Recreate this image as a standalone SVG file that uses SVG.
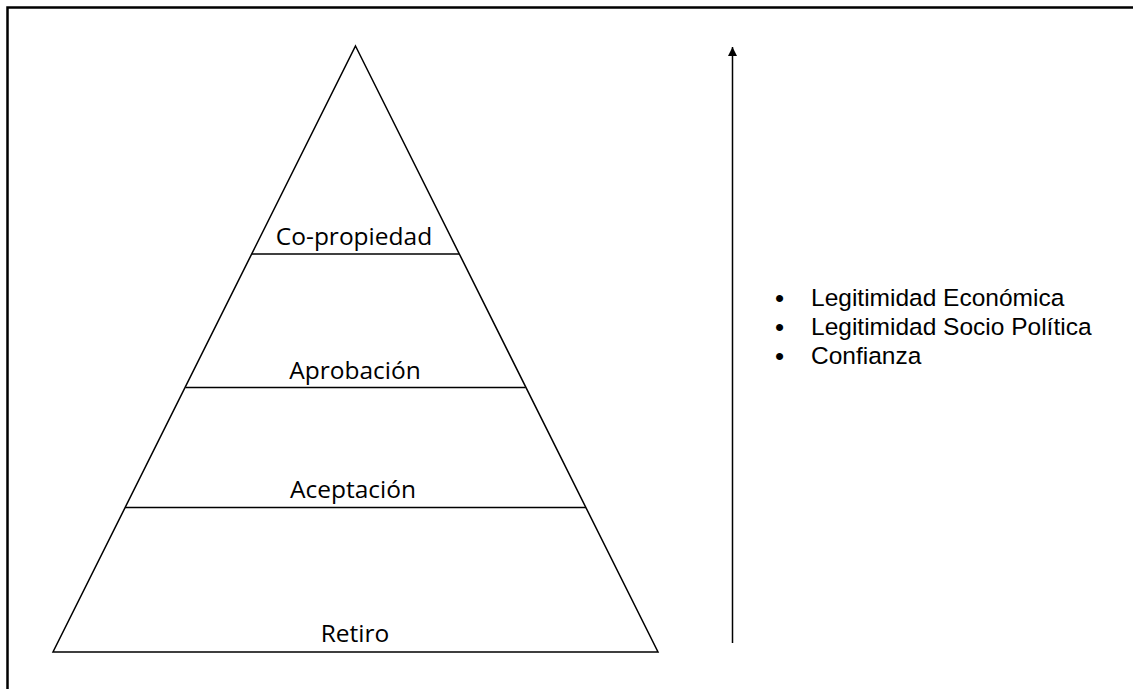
<svg xmlns="http://www.w3.org/2000/svg" width="1133" height="689" viewBox="0 0 1133 689">
<style>
.ln{stroke:#000;stroke-width:1.5;fill:none}
.lbl{font-family:"Open Sans","Liberation Sans",sans-serif;font-size:24.5px;fill:#000;text-anchor:middle}
.bul{font-family:"Liberation Sans",Arial,sans-serif;font-size:24.5px;fill:#000}
.dot{font-size:26px}
</style>
<defs>
<marker id="ah" viewBox="0 0 10 10" refX="10" refY="5" markerWidth="9" markerHeight="9" markerUnits="userSpaceOnUse" orient="auto">
<path d="M0,0 L10,5 L0,10 z" fill="#000"/>
</marker>
</defs>
<rect x="0" y="0" width="1133" height="689" fill="#fff"/>
<path d="M7.5,700 L7.5,7.5 L1140,7.5" stroke="#000" stroke-width="2.5" fill="none"/>
<g id="pyramid">
<path class="ln" d="M355.5,46 L658,652 L53,652 Z"/>
</g>
<g id="co-propiedad">
<line class="ln" x1="252" y1="254" x2="459" y2="254"/>
<text class="lbl" x="354" y="245">Co-propiedad</text>
</g>
<g id="aprobacion">
<line class="ln" x1="185.5" y1="387.5" x2="525.5" y2="387.5"/>
<text class="lbl" x="355" y="379">Aprobación</text>
</g>
<g id="aceptacion">
<line class="ln" x1="125" y1="507.5" x2="586" y2="507.5"/>
<text class="lbl" x="353" y="498">Aceptación</text>
</g>
<g id="retiro">
<text class="lbl" x="355" y="642">Retiro</text>
</g>
<g id="connectors">
<line class="ln" x1="732.5" y1="643" x2="732.5" y2="47" marker-end="url(#ah)"/>
</g>
<g id="factors">
<text class="bul"><tspan class="dot" x="775" y="307">•</tspan><tspan x="811" y="306">Legitimidad Económica</tspan><tspan class="dot" x="775" y="336">•</tspan><tspan x="811" y="335">Legitimidad Socio Política</tspan><tspan class="dot" x="775" y="365">•</tspan><tspan x="811" y="364">Confianza</tspan></text>
</g>
</svg>
